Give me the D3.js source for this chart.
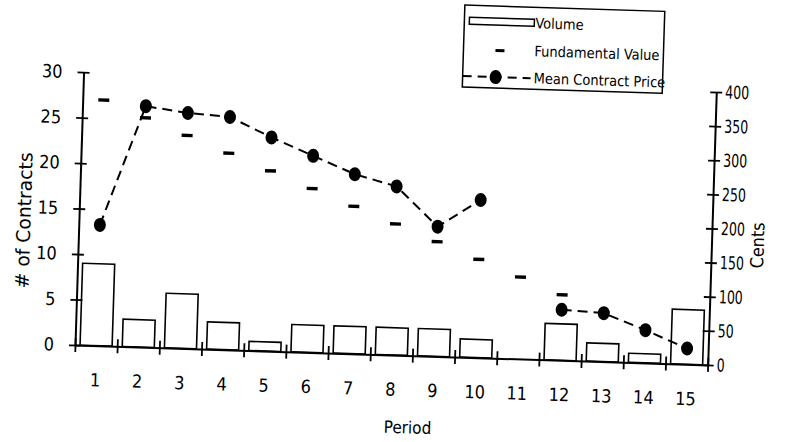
<!DOCTYPE html>
<html>
<head>
<meta charset="utf-8">
<script src="https://cdn.jsdelivr.net/npm/d3@7/dist/d3.min.js"></script>
<style>
    body { margin: 0; background: #fff; }
    text { font-family: "DejaVu Sans Condensed", "DejaVu Sans", sans-serif; font-stretch: condensed; fill: #000; }
</style>
</head>
<body>
<div id="chart"></div>
<script>
// values
var periods = ["1", "2", "3", "4", "5", "6", "7", "8", "9", "10", "11", "12", "13", "14", "15"];
var volume = [9, 3, 6, 3, 1, 3, 3, 3, 3, 2, 0, 4, 2, 1, 6];
var fundamental = [360, 336, 312, 288, 264, 240, 216, 192, 168, 144, 120, 96, 72, 48, 24];
var meanPrice = [177, 353, 345, 341, 313, 288, 263, 247, 190, 231, null, 74, 71, 48, 23];
var contractTicks = [0, 5, 10, 15, 20, 25, 30];
var centTicks = [0, 50, 100, 150, 200, 250, 300, 350, 400];
var edgeTicks = [0, 1, 2, 3, 4, 5, 6, 7, 8, 9, 10, 11, 12, 13, 14, 15];

var outerWidth = 792;
var outerHeight = 442;
var width = 633;
var height = 273;
// the original page was scanned a little crooked, so the whole plot is tilted
var tilt = 1.8;

var svg = d3.select("#chart")
    .append("svg")
    .attr("width", outerWidth)
    .attr("height", outerHeight);

svg.append("rect")
    .attr("width", outerWidth)
    .attr("height", outerHeight)
    .attr("fill", "#fff");

var g = svg.append("g")
    .attr("transform", "translate(75,345) rotate(" + tilt + ")");

var x = d3.scaleBand()
    .domain(periods)
    .range([0, width])
    .paddingInner(0.24)
    .paddingOuter(0.12);

var xEdge = d3.scaleLinear()
    .domain([0, 15])
    .range([0, width]);

var yLeft = d3.scaleLinear()
    .domain([0, 30])
    .range([0, -height]);

var yRight = d3.scaleLinear()
    .domain([0, 400])
    .range([0, -height]);

function cx(i) { return x(periods[i]) + x.bandwidth() / 2; }

// volume bars
g.selectAll(".bar")
    .data(volume.map(function (v, i) { return { p: periods[i], v: v }; })
        .filter(function (d) { return d.v > 0; }))
    .enter()
    .append("rect")
    .attr("class", "bar")
    .attr("x", function (d) { return x(d.p); })
    .attr("y", function (d) { return yLeft(d.v); })
    .attr("width", x.bandwidth())
    .attr("height", function (d) { return -yLeft(d.v); })
    .attr("fill", "#fff")
    .attr("stroke", "#000")
    .attr("stroke-width", 1.6);

// axes
var fontSize = 18;

var bottomTicks = g.append("g")
    .call(d3.axisBottom(xEdge).tickValues(edgeTicks).tickFormat("").tickSize(7).tickSizeOuter(0));
bottomTicks.selectAll(".tick line").attr("y1", -7);

var bottomLabels = g.append("g")
    .call(d3.axisBottom(x).tickSize(0).tickPadding(28));
bottomLabels.select(".domain").remove();

var leftAxis = g.append("g")
    .call(d3.axisLeft(yLeft).tickValues(contractTicks).tickSize(6).tickSizeOuter(0).tickPadding(15));
leftAxis.selectAll(".tick line").attr("x1", 6);

var rightAxis = g.append("g")
    .attr("transform", "translate(" + width + ",0)")
    .call(d3.axisRight(yRight).tickValues(centTicks).tickSize(6).tickSizeOuter(0).tickPadding(3));
rightAxis.selectAll(".tick line").attr("x1", -6);

g.selectAll(".domain").attr("stroke", "#000").attr("stroke-width", 2);
g.selectAll(".tick line").attr("stroke", "#000").attr("stroke-width", 1.8);
g.selectAll(".tick text").attr("font-size", fontSize).attr("fill", "#000");

// the scanned cent labels are set narrower
rightAxis.selectAll(".tick text")
    .attr("textLength", function (d) { return String(d).length * 8; })
    .attr("lengthAdjust", "spacingAndGlyphs");

// fundamental value dashes
g.selectAll(".fv")
    .data(fundamental)
    .enter()
    .append("rect")
    .attr("class", "fv")
    .attr("x", function (d, i) { return cx(i) - 5.5; })
    .attr("y", function (d) { return yRight(d) - 1.7; })
    .attr("width", 11)
    .attr("height", 3.4)
    .attr("fill", "#000");

// mean contract price
var line = d3.line()
    .defined(function (d) { return d != null; })
    .x(function (d, i) { return cx(i); })
    .y(function (d) { return yRight(d); });

g.append("path")
    .datum(meanPrice)
    .attr("d", line)
    .attr("fill", "none")
    .attr("stroke", "#000")
    .attr("stroke-width", 2)
    .attr("stroke-dasharray", "10,6");

g.selectAll(".dot")
    .data(meanPrice.map(function (v, i) { return { i: i, v: v }; })
        .filter(function (d) { return d.v != null; }))
    .enter()
    .append("ellipse")
    .attr("class", "dot")
    .attr("cx", function (d) { return cx(d.i); })
    .attr("cy", function (d) { return yRight(d.v); })
    .attr("rx", 6)
    .attr("ry", 7)
    .attr("fill", "#000");

// axis titles
g.append("text")
    .attr("transform", "translate(-55,-123) rotate(-90)")
    .attr("text-anchor", "middle")
    .attr("dy", "0.35em")
    .attr("font-size", 19)
    .attr("textLength", 136)
    .attr("lengthAdjust", "spacingAndGlyphs")
    .text("# of Contracts");

g.append("text")
    .attr("transform", "translate(" + (width + 46) + ",-121) rotate(-90)")
    .attr("text-anchor", "middle")
    .attr("dy", "0.35em")
    .attr("font-size", 18)
    .attr("textLength", 46)
    .attr("lengthAdjust", "spacingAndGlyphs")
    .text("Cents");

g.append("text")
    .attr("x", 335)
    .attr("y", 72)
    .attr("text-anchor", "middle")
    .attr("dy", "0.35em")
    .attr("font-size", 17)
    .text("Period");

// legend
var legend = g.append("g")
    .attr("transform", "translate(379,-352)");

legend.append("rect")
    .attr("width", 200)
    .attr("height", 82)
    .attr("fill", "#fff")
    .attr("stroke", "#000")
    .attr("stroke-width", 1.5);

legend.append("rect")
    .attr("x", 5)
    .attr("y", 12)
    .attr("width", 65)
    .attr("height", 7)
    .attr("fill", "#fff")
    .attr("stroke", "#000")
    .attr("stroke-width", 1.5);

legend.append("rect")
    .attr("x", 32)
    .attr("y", 43)
    .attr("width", 9)
    .attr("height", 3)
    .attr("fill", "#000");

legend.append("line")
    .attr("x1", 0)
    .attr("x2", 68)
    .attr("y1", 71)
    .attr("y2", 71)
    .attr("stroke", "#000")
    .attr("stroke-width", 2)
    .attr("stroke-dasharray", "9,6");

legend.append("ellipse")
    .attr("cx", 33)
    .attr("cy", 71)
    .attr("rx", 6)
    .attr("ry", 7)
    .attr("fill", "#000");

var legendLabels = ["Volume", "Fundamental Value", "Mean Contract Price"];
var legendRows = [16, 44, 71];

legend.selectAll(".lab")
    .data(legendLabels)
    .enter()
    .append("text")
    .attr("class", "lab")
    .attr("x", 71)
    .attr("y", function (d, i) { return legendRows[i]; })
    .attr("dy", "0.35em")
    .attr("font-size", 14.5)
    .text(function (d) { return d; });
</script>
</body>
</html>
